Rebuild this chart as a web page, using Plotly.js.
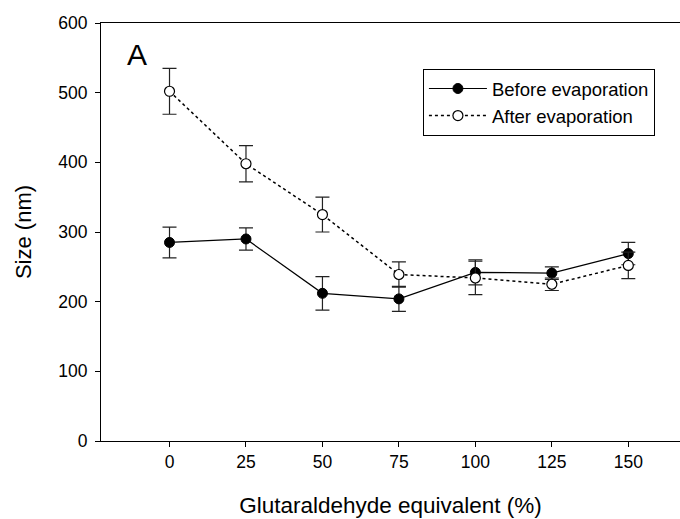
<!DOCTYPE html>
<html>
<head>
<meta charset="utf-8">
<script src="https://cdn.plot.ly/plotly-3.0.1.min.js"></script>
<style>html,body{margin:0;padding:0;background:#fff;}#chart{width:680px;height:519px;}</style>
</head>
<body>
<div id="chart"></div>
<script>
var glutaraldehyde = [0, 25, 50, 75, 100, 125, 150];
var beforeSize = [285, 290, 212, 204, 242, 241, 269];
var beforeErr = [22, 16, 24, 18, 18, 9, 16];
var afterSize = [502, 398, 325, 239, 234, 225, 252];
var afterErr = [33, 26, 25, 18, 24, 9, 19];
var xTicks = [0, 25, 50, 75, 100, 125, 150];
var yTicks = [0, 100, 200, 300, 400, 500, 600];

var fontFam = '"Liberation Sans", Arial, sans-serif';

var traces = [
  {
    x: glutaraldehyde, y: beforeSize, name: 'Before evaporation',
    type: 'scatter', mode: 'lines+markers',
    line: {color: '#000', width: 1.2, dash: 'solid'},
    marker: {symbol: 'circle', size: 10, color: '#000', line: {color: '#000', width: 1}},
    error_y: {type: 'data', array: beforeErr, visible: true, color: '#222', thickness: 1.2, width: 7}
  },
  {
    x: glutaraldehyde, y: afterSize, name: 'After evaporation',
    type: 'scatter', mode: 'lines+markers',
    line: {color: '#000', width: 1.5, dash: 'dot'},
    marker: {symbol: 'circle', size: 10, color: '#fff', line: {color: '#000', width: 1.2}},
    error_y: {type: 'data', array: afterErr, visible: true, color: '#222', thickness: 1.2, width: 7}
  }
];

var layout = {
  width: 680, height: 519,
  margin: {l: 101, r: 0, t: 23, b: 78, pad: 0},
  paper_bgcolor: '#fff', plot_bgcolor: '#fff',
  font: {family: fontFam, color: '#000', size: 17},
  showlegend: true,
  legend: {
    x: 0.556, y: 0.89, xanchor: 'left', yanchor: 'top',
    bordercolor: '#000', borderwidth: 1, bgcolor: '#fff',
    font: {family: fontFam, size: 18.5, color: '#000'},
    itemwidth: 58,
    tracegroupgap: 0
  },
  xaxis: {
    range: [-22.4, 166.9],
    tickvals: xTicks, ticktext: xTicks.map(String),
    ticks: 'outside', ticklen: 5, tickwidth: 1, tickcolor: '#000',
    showline: true, linecolor: '#000', linewidth: 1, mirror: true,
    showgrid: false, zeroline: false,
    tickfont: {family: fontFam, size: 17.5},
    title: {text: 'Glutaraldehyde equivalent (%)', font: {family: fontFam, size: 22.5}, standoff: 26}
  },
  yaxis: {
    range: [0, 600],
    tickvals: yTicks, ticktext: yTicks.map(String),
    ticks: 'outside', ticklen: 5, tickwidth: 1, tickcolor: '#000',
    showline: true, linecolor: '#000', linewidth: 1,
    showgrid: false, zeroline: false,
    ticklabelstandoff: 4,
    tickfont: {family: fontFam, size: 17.5},
    title: {text: 'Size (nm)', font: {family: fontFam, size: 22}, standoff: 20}
  },
  annotations: [
    {text: 'A', xref: 'paper', yref: 'paper', x: 0.062, y: 0.925, xanchor: 'center', yanchor: 'middle',
     showarrow: false, font: {family: fontFam, size: 30, color: '#000'}}
  ]
};

Plotly.newPlot('chart', traces, layout, {displayModeBar: false, staticPlot: true});
</script>
</body>
</html>
